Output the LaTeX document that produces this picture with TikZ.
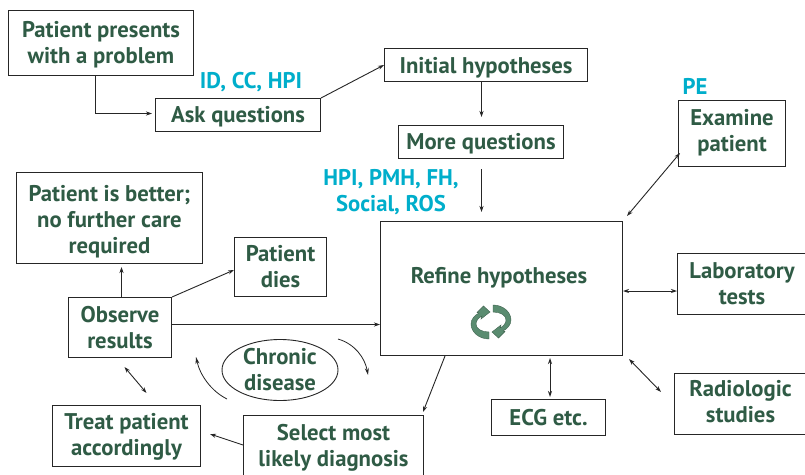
\documentclass[tikz,border=0pt]{standalone}
\usepackage{fontspec}
\setmainfont{PT Sans}
\usetikzlibrary{arrows.meta,shapes.geometric}
\definecolor{tgreen}{HTML}{2F5B45}
\definecolor{tcyan}{HTML}{00AECB}
\definecolor{igreen}{HTML}{5A8C70}
\newcommand{\fsz}{\fontsize{22.7}{26}\selectfont\bfseries}
\newcommand{\pad}[1]{\rule{0pt}{#1pt}}
\newcommand{\dep}[1]{\rule[-#1pt]{0pt}{#1pt}}
\tikzset{
  x=1pt,y=-1pt,
  txt/.style={text=tgreen,font=\fsz,align=center,inner sep=0pt},
  bx/.style={draw=black!85,line width=1pt,fill=white,txt,anchor=north west,minimum width=#1},
  lbl/.style={text=tcyan,font=\fsz,align=center,inner sep=0pt},
  conn/.style={draw=black!85,line width=0.9pt,-{Stealth[length=6pt,width=4pt]}},
  both/.style={draw=black!85,line width=0.9pt,{Stealth[length=6pt,width=4pt]}-{Stealth[length=6pt,width=4pt]}},
  swoop/.style={draw=black!85,line width=0.8pt,-{Stealth[length=7pt,width=4pt]}}
}
\newcommand{\recy}{%
  \fill[igreen,draw=igreen!70!black,line width=0.4pt]
    (-2,17) .. controls (-12,17) and (-20,10) .. (-20,2)
    .. controls (-20,-3) and (-16,-7) .. (-12,-9)
    -- (-14,-9.5) -- (-7.5,-16) -- (-1,-10) -- (-10,-3) -- (-9,-6)
    .. controls (-13,-4) and (-15,-1) .. (-15,2)
    .. controls (-15,7) and (-9,10) .. (-2,10) -- cycle;}
\begin{document}
\begin{tikzpicture}
\useasboundingbox (0,0) rectangle (805,474);
\fill[white] (0,0) rectangle (805,474);
\begin{scope}
\clip (0,0) rectangle (805,474);
\node[bx=185pt,minimum height=65pt] (patient) at (8,10) {\pad{20}Patient presents\\with a problem};
\node[bx=165pt,minimum height=33pt] (ask) at (155,98) {\pad{20}Ask questions};
\node[bx=203pt,minimum height=33pt] (initial) at (384,48) {\pad{21}Initial hypotheses};
\node[bx=165pt,minimum height=33pt] (more) at (398,125) {\pad{20.5}More questions};
\node[bx=107pt,minimum height=66pt] (examine) at (678,100) {Examine\\patient\dep{6.5}};
\node[bx=186pt,minimum height=91pt] (better) at (16,172) {\pad{24.5}Patient is better;\\no further care\\required};
\node[bx=92pt,minimum height=59pt] (dies) at (234,237) {Patient\\dies};
\node[draw=black!85,line width=1pt,minimum width=242pt,minimum height=134pt,anchor=north west,inner sep=0pt] (refine) at (380,221) {};
\node[txt] (refinetext) at (499,278) {Refine hypotheses};
\node[bx=129pt,minimum height=61pt] (lab) at (677,253) {Laboratory\\tests};
\node[bx=103pt,minimum height=60pt] (observe) at (68,297) {Observe\\results};
\node[bx=132pt,minimum height=61pt] (radio) at (674,373) {Radiologic\\studies\dep{6}};
\node[bx=114pt,minimum height=36pt] (ecg) at (491,399) {ECG etc.};
\node[bx=148pt,minimum height=61pt] (treat) at (52,405) {\pad{18.5}Treat patient\\accordingly};
\node[bx=180pt,minimum height=60pt] (select) at (243,415) {\pad{20.5}Select most\\likely diagnosis};
\node[draw=black!85,line width=0.9pt,ellipse,minimum width=116pt,minimum height=61pt,txt,inner sep=-5pt] (chronic) at (280,370) {Chronic\\disease};
\end{scope}
\node[lbl] (idcc) at (251,82) {ID, CC, HPI};
\node[lbl] (pe) at (695,86) {PE};
\node[lbl] (hpi) at (391,192.5) {HPI, PMH, FH,\\Social, ROS};
\begin{scope}[shift={(491,322)}]
\recy
\begin{scope}[rotate=180]\recy\end{scope}
\end{scope}
\draw[conn] ([shift={(-5.5,0)}]patient.south) |- ([shift={(-3,-1.5)}]ask.west);
\draw[conn] (ask.north east) -- ([shift={(0,0)}]initial.west);
\draw[conn] ([shift={(-4.5,0)}]initial.south) -- ([shift={(.5,-8)}]more.north);
\draw[conn] ([shift={(.5,10)}]more.south) -- ([shift={(-20,-9)}]refine.north);
\draw[both] ([shift={(2,53)}]examine.north west) -- ([shift={(4,-5)}]refine.north east);
\draw[both] ([shift={(0,38)}]refine.east |- lab.north) -- ([shift={(0,38)}]lab.north west);
\draw[both] ([shift={(-13,19)}]radio.north west) -- ([shift={(6,3)}]refine.south east);
\draw[both] ([shift={(59,-2)}]ecg.north west) -- ([shift={(170,2)}]refine.south west);
\draw[conn] ([shift={(65,0)}]refine.south west) -- ([shift={(180,-3)}]select.north west);
\draw[conn] ([shift={(0,30)}]select.north west) -- ([shift={(9,29)}]treat.north east);
\draw[both] ([shift={(20,-12)}]treat.north) -- ([shift={(4.5,9)}]observe.south);
\draw[conn] ([shift={(0,-3)}]observe.east) -- ([shift={(0,-3)}]refine.west |- observe.east);
\draw[conn] ([shift={(1.5,0)}]observe.north) -- ([shift={(1.5,3)}]observe.north |- better.south);
\draw[conn] (observe.north east) -- ([shift={(0,33)}]dies.north west);
\coordinate (sa) at (338,339);
\coordinate (sb) at (368,375);
\coordinate (sc) at (227,399);
\coordinate (sd) at (196,357);
\draw[swoop] (sa) .. controls (355,344) and (365,358) .. (sb);
\draw[swoop] (sc) .. controls (211,391) and (200,375) .. (sd);
\end{tikzpicture}
\end{document}
